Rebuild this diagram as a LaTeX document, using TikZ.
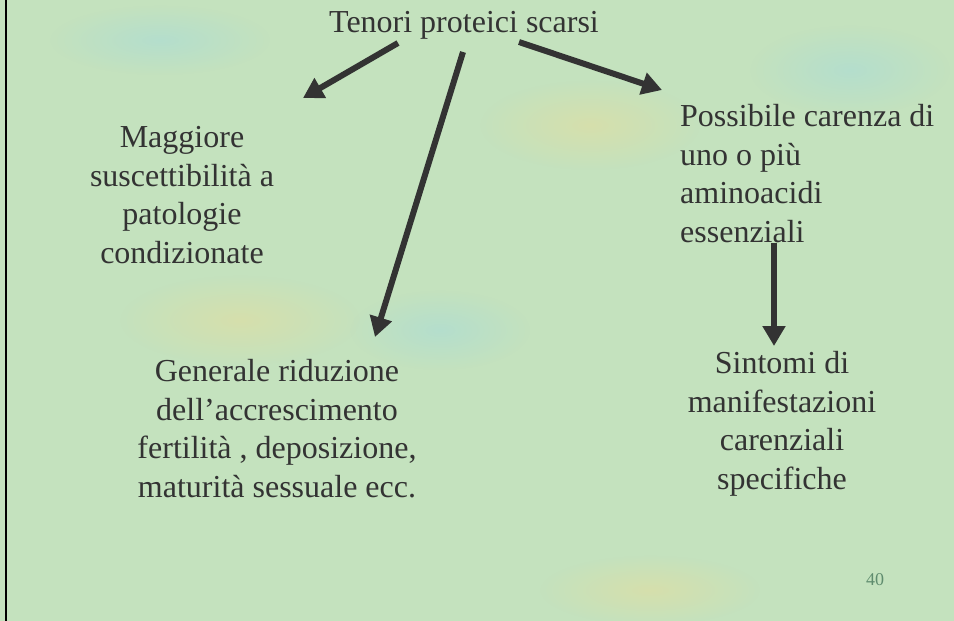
\documentclass[tikz,border=0pt]{standalone}
\usepackage{fontspec}
\setmainfont{Liberation Serif}
\usetikzlibrary{arrows.meta, calc, fadings}

\definecolor{slidebg}{RGB}{196,226,190}
\definecolor{tanpatch}{RGB}{226,222,160}
\definecolor{bluepatch}{RGB}{170,220,215}
\definecolor{ink}{RGB}{51,51,51}
\definecolor{pagenum}{RGB}{95,140,110}
\tikzfading[name=softblob, inner color=transparent!0, outer color=transparent!100]

\begin{document}
\begin{tikzpicture}[x=1pt, y=-1pt,
    every node/.style={font=\fontsize{32}{38.5}\selectfont, text=ink, inner sep=0pt},
    label/.style={align=center, anchor=base},
    blob/.style={path fading=softblob, opacity=0.6},
    arrow/.style={-{Triangle[length=20pt, width=22pt]}, line width=6pt, draw=ink}
]

% fond de la diapositive
\fill[slidebg] (0,0) rectangle (954,621);
\useasboundingbox (0,0) rectangle (954,621);
\fill[tanpatch, blob]  (590,125) ellipse (110 and 45);
\fill[tanpatch, blob]  (240,320) ellipse (120 and 45);
\fill[tanpatch, blob]  (650,590) ellipse (110 and 35);
\fill[bluepatch, blob] (850,70)  ellipse (100 and 45);
\fill[bluepatch, blob] (440,330) ellipse (90 and 40);
\fill[bluepatch, blob] (160,40)  ellipse (110 and 35);
\draw[line width=2.5pt, black] (6,0) -- (6,621);

% le point "base" d'un noeud sur plusieurs lignes est sa derniere ligne
\node[label] (tenori) at (464,32) {Tenori proteici scarsi};
\node[label] (magg) at (182,263) {Maggiore\\suscettibilità a\\patologie\\condizionate};
\node[label, align=left, anchor=base west] (poss) at (680,242) {Possibile carenza di\\uno o più\\aminoacidi\\essenziali};
\node[label] (gen) at (277,497) {Generale riduzione\\dell’accrescimento\\fertilità , deposizione,\\maturità sessuale ecc.};
\node[label] (sint) at (782,489) {Sintomi di\\manifestazioni\\carenziali\\specifiche};

\node[anchor=base, text=pagenum, font=\fontsize{18}{21}\selectfont] (page) at (875,585) {40};

\draw[arrow] ($(tenori.base)+(-66,11)$) -- ($(magg.base)+(121,-165)$);
\draw[arrow] ($(tenori.base)+(-1,20)$) -- ($(gen.base)+(98,-160)$);
\draw[arrow] ($(tenori.base)+(55,10)$) -- ($(poss.base west)+(-18,-152)$);
\draw[arrow] ($(poss.base west)+(94,1)$) -- ($(sint.base)+(-8,-143)$);

\end{tikzpicture}
\end{document}
